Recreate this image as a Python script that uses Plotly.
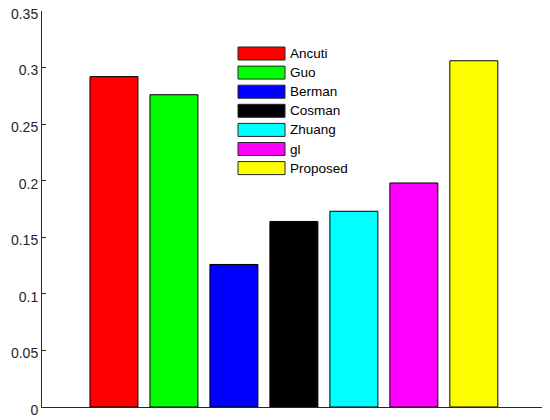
import plotly.graph_objects as go

# data
methods = ["Ancuti", "Guo", "Berman", "Cosman", "Zhuang", "gl", "Proposed"]
scores = [0.292, 0.276, 0.126, 0.164, 0.173, 0.198, 0.306]
colors = ["#FF0000", "#00FF00", "#0000FF", "#000000", "#00FFFF", "#FF00FF", "#FFFF00"]
positions = [1, 2, 3, 4, 5, 6, 7]
y_ticks = [0, 0.05, 0.1, 0.15, 0.2, 0.25, 0.3, 0.35]
y_ticktext = ["0", "0.05", "0.1", "0.15", "0.2", "0.25", "0.3", "0.35"]

# page body has an 8px margin, so shrink the figure to fit the window
OFF = 8
W, H = 550 - OFF, 420 - OFF
# plot area in window pixels: x 42..544, y 11..407
PL, PR, PT, PB = 42 - OFF, 6, 11 - OFF, 13


def px_x(p):
    return (p - OFF - PL) / (W - PL - PR)


def px_y(p):
    return (H - PB - (p - OFF)) / (H - PT - PB)


fig = go.Figure()

fig.add_trace(go.Bar(
    x=positions,
    y=scores,
    width=0.8,
    marker=dict(color=colors, line=dict(color="#000000", width=1)),
    showlegend=False,
    text=methods,
    textposition="none",
    hovertemplate="%{text}: %{y:.3f}<extra></extra>",
))

# MATLAB-style legend: wide swatches with labels
shapes = []
annotations = []
for i, (name, c) in enumerate(zip(methods, colors)):
    cy = 53.5 + 19.1 * i
    shapes.append(dict(
        type="rect", xref="paper", yref="paper",
        x0=px_x(238), x1=px_x(285), y0=px_y(cy + 6.5), y1=px_y(cy - 6.5),
        fillcolor=c, line=dict(color="#262626", width=1),
    ))
    annotations.append(dict(
        x=px_x(288), y=px_y(cy), xref="paper", yref="paper",
        text=name, showarrow=False, xanchor="left", yanchor="middle",
        font=dict(size=13.5, color="#000000", family="Liberation Sans, Arial"),
    ))

fig.update_layout(
    width=W, height=H,
    margin=dict(l=PL, r=PR, t=PT, b=PB, pad=0),
    plot_bgcolor="white",
    paper_bgcolor="white",
    font=dict(family="Liberation Sans, Arial", size=14, color="#262626"),
    xaxis=dict(
        range=[-0.2, 8.17],
        showticklabels=False,
        ticks="",
        showgrid=False,
        zeroline=False,
        showline=True,
        linecolor="#262626",
        linewidth=1,
        automargin=False,
    ),
    yaxis=dict(
        range=[0, 0.35],
        tickvals=y_ticks,
        ticktext=y_ticktext,
        ticks="inside",
        ticklen=4,
        tickcolor="#262626",
        ticklabeloverflow="allow",
        ticklabelshift=3,
        automargin=False,
        showgrid=False,
        zeroline=False,
        showline=True,
        linecolor="#262626",
        linewidth=1,
        tickfont=dict(size=14, color="#262626"),
    ),
    shapes=shapes,
    annotations=annotations,
    showlegend=False,
)

fig.write_html("out.html")
